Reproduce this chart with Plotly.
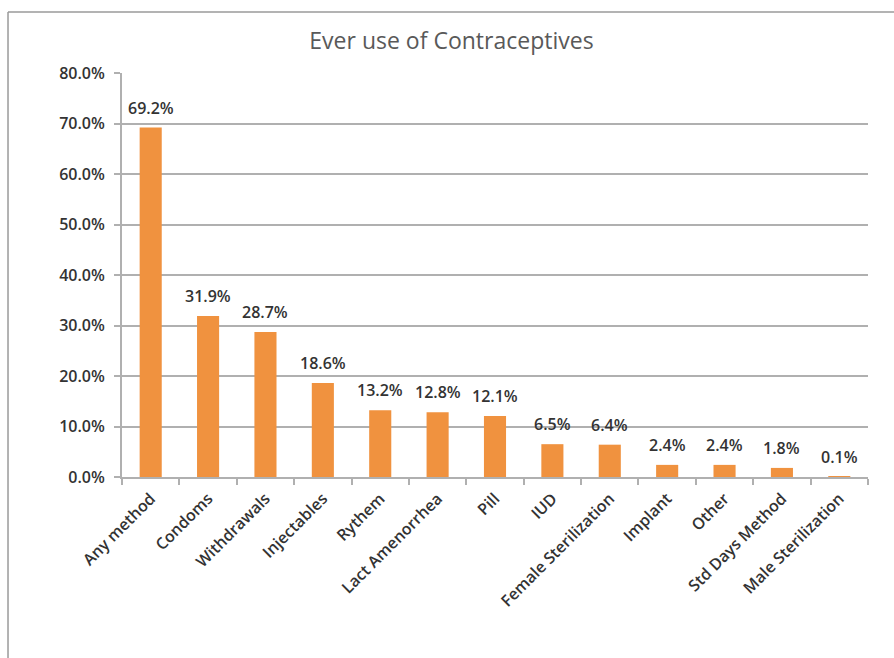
import plotly.graph_objects as go

# Ever-use percentages by contraceptive method
methods = ["Any method", "Condoms", "Withdrawals", "Injectables", "Rythem",
           "Lact Amenorrhea", "Pill", "IUD", "Female Sterilization", "Implant",
           "Other", "Std Days Method", "Male Sterilization"]
ever_use = [69.2, 31.9, 28.7, 18.6, 13.2, 12.8, 12.1, 6.5, 6.4, 2.4, 2.4, 1.8, 0.1]
y_ticks = [0, 10, 20, 30, 40, 50, 60, 70, 80]

FONT = "'Open Sans', Lato, sans-serif"
GRID = "#b0b0b0"
TEXT = "#333333"

fig = go.Figure()
fig.add_trace(go.Bar(
    x=methods, y=ever_use,
    marker=dict(color="#F0923F", line=dict(width=0)),
    hoverinfo="x+y",
))

# value labels above each bar
for m, v in zip(methods, ever_use):
    fig.add_annotation(x=m, y=v, text=f"{v:.1f}%", showarrow=False,
                       yanchor="bottom", yshift=7,
                       font=dict(family=FONT, size=16, color=TEXT, weight=600))

# outer chart frame (left and top edges)
fig.add_shape(type="line", xref="paper", yref="paper",
              x0=-0.1528, x1=-0.1528, y0=-0.45, y1=1.151,
              line=dict(color="#9a9a9a", width=1.5))
fig.add_shape(type="line", xref="paper", yref="paper",
              x0=-0.1528, x1=1.04, y0=1.151, y1=1.151,
              line=dict(color="#9a9a9a", width=1.5))

fig.update_layout(
    width=894, height=658,
    margin=dict(l=122, r=26, t=73, b=181),
    paper_bgcolor="white", plot_bgcolor="white",
    bargap=0.615,
    showlegend=False,
    title=dict(text="Ever use of Contraceptives", x=0.505, xanchor="center",
               y=0.938, yanchor="middle",
               font=dict(family=FONT, size=23, color="#595959")),
    font=dict(family=FONT, size=16, color=TEXT),
)
fig.update_xaxes(
    type="category", showline=True, linecolor=GRID, linewidth=2,
    ticks="outside", tickson="boundaries", ticklen=6, tickcolor=GRID, tickwidth=2,
    tickangle=-45, ticklabelstandoff=4,
    tickfont=dict(family=FONT, size=16, color=TEXT, weight=600),
    showgrid=False,
)
fig.update_yaxes(
    range=[0, 80], tickvals=y_ticks, ticktext=[f"{t:.1f}%" for t in y_ticks],
    showline=True, linecolor=GRID, linewidth=2,
    ticks="outside", ticklen=6, tickcolor=GRID, tickwidth=2,
    ticklabelstandoff=6,
    showgrid=True, gridcolor=GRID, gridwidth=2, zeroline=False,
    tickfont=dict(family=FONT, size=16, color=TEXT, weight=600),
)

fig.write_html("out.html")
